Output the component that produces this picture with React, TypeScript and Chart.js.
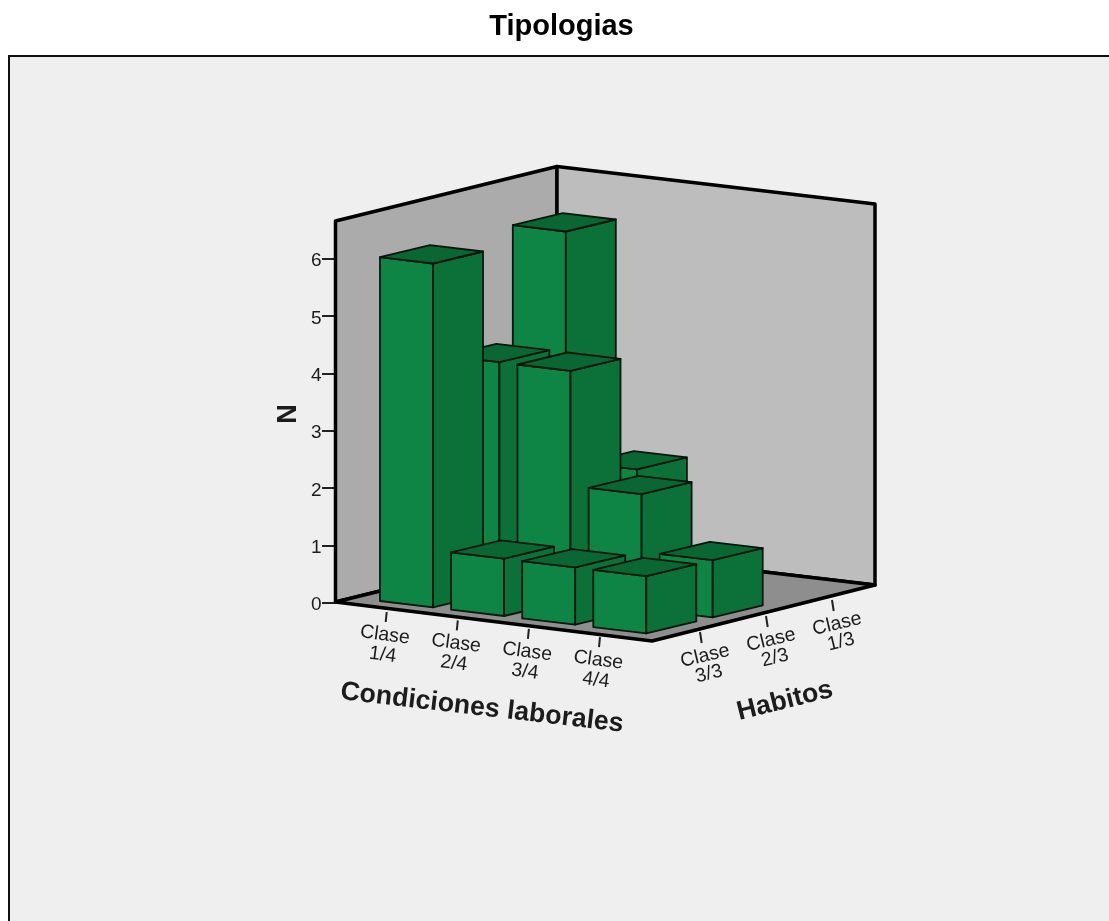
import React, { useEffect, useRef } from "react";
import { Chart, registerables } from "chart.js";

Chart.register(...registerables);

const condiciones = ["Clase 1/4", "Clase 2/4", "Clase 3/4", "Clase 4/4"];
const habitos = ["Clase 3/3", "Clase 2/3", "Clase 1/3"];
const habitos33 = [6, 1, 1, 1];
const habitos23 = [4, 4, 2, 1];
const habitos13 = [6, 2, 0, 0];
const nTicks = [0, 1, 2, 3, 4, 5, 6];
const nMaxWall = 6.65;

const FONT = '"Liberation Sans", Arial, sans-serif';
const W = 1114;
const H = 921;
const PANEL_L = 9;
const PANEL_T = 56;
const Y0 = 603;
const U = 57.3;

const toN = (py: number) => (Y0 - py) / U;
type P = { x: number; y: number };
const pt = (px: number, py: number, n = 0): P => ({ x: px, y: toN(py) + n });

// oblique projection of the bar grid (i = condition, j = depth row)
const bar0 = { x: 380, y: 601 };
const stepI = { x: 71.1, y: 8.7 };
const stepJ = { x: 66.4, y: -16 };
const faceW = { x: 53, y: 6.3 };
const faceD = { x: 50, y: -12 };

function App() {
  const ref = useRef<HTMLCanvasElement>(null);
  useEffect(() => {
    document.body.style.margin = "0";
    const datasets: any[] = [];
    let paint = 0;
    const poly = (label: string, pts: P[], fill: string, stroke: string, width: number) => {
      paint += 1;
      datasets.push({
        label,
        type: "scatter",
        showLine: true,
        data: [...pts, pts[0], pts[1]],
        backgroundColor: fill,
        borderColor: stroke,
        borderWidth: width,
        borderJoinStyle: "round",
        fill: "shape",
        pointRadius: 0,
        pointHoverRadius: 0,
        tension: 0,
        clip: false,
        order: -paint,
      });
    };

    const wallL = pt(335.5, 602);
    const wallB = pt(557, 547.5);
    const wallR = pt(875, 585);
    const wallF = pt(652, 641);
    const up = (p: P) => ({ x: p.x, y: p.y + nMaxWall });
    poly("Pared izquierda", [wallL, wallB, up(wallB), up(wallL)], "#ababab", "#000", 3.5);
    poly("Pared fondo", [wallB, wallR, up(wallR), up(wallB)], "#bdbdbd", "#000", 3.5);
    poly("Suelo", [wallL, wallF, wallR, wallB], "#8e8e8e", "#000", 3.5);

    const rows = [habitos13, habitos23, habitos33];
    rows.forEach((row, r) => {
      const j = 2 - r;
      row.forEach((v, i) => {
        if (!v) return;
        const bx = bar0.x + i * stepI.x + j * stepJ.x;
        const by = bar0.y + i * stepI.y + j * stepJ.y;
        const a = pt(bx, by);
        const b = pt(bx + faceW.x, by + faceW.y);
        const c = pt(bx + faceW.x + faceD.x, by + faceW.y + faceD.y);
        const d = pt(bx + faceD.x, by + faceD.y);
        const top = (p: P) => ({ x: p.x, y: p.y + v });
        const name = `${condiciones[i]} / ${habitos[j]}`;
        const edge = "#04170c";
        poly(name + " frente", [a, b, top(b), top(a)], "#0e8445", edge, 1.8);
        poly(name + " lado", [b, c, top(c), top(b)], "#0c7039", edge, 1.8);
        poly(name + " arriba", [top(a), top(b), top(c), top(d)], "#0a6633", edge, 1.8);
      });
    });

    const panel = {
      id: "panel",
      beforeDraw(chart: any) {
        const { ctx, chartArea: ca } = chart;
        ctx.save();
        ctx.fillStyle = "#efefef";
        ctx.fillRect(ca.left, ca.top, ca.right - ca.left, ca.bottom - ca.top);
        ctx.strokeStyle = "#111";
        ctx.lineWidth = 2;
        ctx.beginPath();
        ctx.moveTo(ca.left, ca.bottom);
        ctx.lineTo(ca.left, ca.top);
        ctx.lineTo(ca.right, ca.top);
        ctx.stroke();
        ctx.restore();
      },
    };

    const labels3d = {
      id: "labels3d",
      afterDatasetsDraw(chart: any) {
        const { ctx, scales } = chart;
        const X = (v: number) => scales.x.getPixelForValue(v);
        const Y = (v: number) => scales.y.getPixelForValue(toN(v));
        const text = (s: string, x: number, y: number, deg: number, font: string) => {
          ctx.save();
          ctx.translate(X(x), Y(y));
          ctx.rotate((deg * Math.PI) / 180);
          ctx.font = font;
          ctx.fillStyle = "#1c1c1c";
          ctx.textAlign = "center";
          ctx.textBaseline = "middle";
          ctx.fillText(s, 0, 0);
          ctx.restore();
        };
        const tick = (x: number, y: number, dx: number, dy: number) => {
          ctx.save();
          ctx.strokeStyle = "#222";
          ctx.lineWidth = 2;
          ctx.beginPath();
          ctx.moveTo(X(x), Y(y));
          ctx.lineTo(X(x + dx), Y(y + dy));
          ctx.stroke();
          ctx.restore();
        };
        const small = `19.5px ${FONT}`;
        const bold = `bold 26.7px ${FONT}`;
        condiciones.forEach((c, i) => {
          const tx = 386.7 + i * 71.1;
          const ty = 612 + i * 8.4;
          tick(tx, ty, -1, 10);
          const [a, b] = c.split(" ");
          text(a, tx - 1.7, ty + 23, 7.5, small);
          text(b, tx - 4, ty + 43, 7.5, small);
        });
        habitos.forEach((c, j) => {
          const tx = 700 + j * 66;
          const ty = 632 - j * 16;
          tick(tx, ty, 1.7, 11);
          const [a, b] = c.split(" ");
          text(a, tx + 5, ty + 24, -13.5, small);
          text(b, tx + 9, ty + 42, -13.5, small);
        });
        text("Condiciones laborales", 482, 708, 6.6, bold);
        text("Habitos", 785, 701, -14, bold);
        text("N", 289, 414, -90, `bold 27px ${FONT}`);
      },
    };

    const chart = new Chart(ref.current as HTMLCanvasElement, {
      type: "scatter",
      data: { datasets },
      plugins: [panel, labels3d],
      options: {
        animation: false,
        responsive: false,
        layout: { padding: { left: PANEL_L, right: 0, top: 0, bottom: 0 } },
        plugins: {
          legend: { display: false },
          tooltip: { enabled: false },
          title: {
            display: true,
            text: "Tipologias",
            fullSize: false,
            color: "#000",
            font: { family: FONT, size: 29, weight: "bold", lineHeight: 1.2 },
            padding: { top: 10, bottom: PANEL_T - 10 - 34.8 },
          },
        },
        scales: {
          x: { type: "linear", display: false, min: PANEL_L, max: W },
          y: {
            type: "linear",
            position: { x: 321.5 },
            min: toN(H),
            max: toN(PANEL_T),
            afterBuildTicks(scale: any) {
              scale.ticks = nTicks.map((value) => ({ value }));
            },
            afterFit(scale: any) {
              scale.paddingTop = 0;
              scale.paddingBottom = 0;
            },
            border: { display: false },
            grid: { drawOnChartArea: false, drawTicks: true, tickLength: -13, color: "#222", lineWidth: 2 },
            ticks: {
              autoSkip: false,
              maxRotation: 0,
              labelOffset: 2,
              color: "#1c1c1c",
              font: { family: FONT, size: 19 },
            },
          },
        },
      } as any,
    });
    return () => chart.destroy();
  }, []);
  return (
    <div style={{ width: 1109, height: H, overflow: "hidden" }}>
      <canvas
        ref={ref}
        width={W}
        height={H}
        style={{ display: "block", width: W, height: H, filter: "blur(0.5px)" }}
      />
    </div>
  );
}

export default App;
